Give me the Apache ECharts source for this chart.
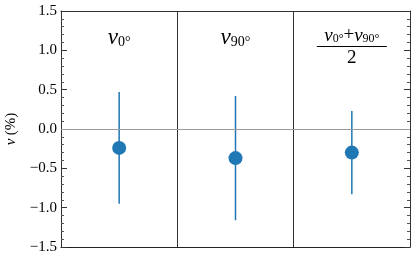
<!DOCTYPE html>
<html>
<head>
<meta charset="utf-8">
<script src="https://cdn.jsdelivr.net/npm/echarts@6/dist/echarts.min.js"></script>
<style>html,body{margin:0;padding:0;background:#fff;}#c{width:416px;height:262px;}</style>
</head>
<body>
<div id="c"></div>
<script>
const categories = ['v0', 'v90', 'avg'];
const values = [-0.24, -0.37, -0.30];
const upper = [0.47, 0.42, 0.23];
const lower = [-0.95, -1.16, -0.83];
const yTicks = [-1.5, -1.0, -0.5, 0.0, 0.5, 1.0, 1.5];

const SERIF = 'serif';
const chart = echarts.init(document.getElementById('c'), null, {renderer: 'canvas'});

const rich = {
  v: {fontFamily: SERIF, fontStyle: 'italic', fontSize: 23, color: '#000'},
  s: {fontFamily: SERIF, fontSize: 14, color: '#000', padding: [9, 0, 0, 0]},
  vs: {fontFamily: SERIF, fontStyle: 'italic', fontSize: 19, color: '#000'},
  ss: {fontFamily: SERIF, fontSize: 12, color: '#000', padding: [7, 0, 0, 0]},
  p: {fontFamily: SERIF, fontSize: 19, color: '#000'},
  bar: {width: 70, height: 1, backgroundColor: '#000', lineHeight: 3, fontSize: 1},
  d: {fontFamily: SERIF, fontSize: 19, color: '#000', lineHeight: 20}
};
const labelText = {
  v0: '{v|v}{s|0°}',
  v90: '{v|v}{s|90°}',
  avg: '{vs|v}{ss|0°}{p|+}{vs|v}{ss|90°}\n{bar| }\n{d|2}'
};

const yAxisBase = {
  type: 'value', min: -1.5, max: 1.5, interval: 0.5,
  axisLine: {show: true, lineStyle: {color: '#333', width: 1}},
  axisTick: {show: true, inside: true, length: 6, lineStyle: {color: '#333'}},
  minorTick: {show: true, splitNumber: 5, length: 3, lineStyle: {color: '#555'}},
  splitLine: {show: false}
};

chart.setOption({
  animation: false,
  grid: {left: 61, right: 6, top: 11, bottom: 15, outerBoundsMode: 'none', containLabel: false},
  xAxis: [
    {type: 'category', data: categories, position: 'bottom',
     axisLine: {show: true, onZero: false, lineStyle: {color: '#222', width: 1.2}},
     axisTick: {show: false}, axisLabel: {show: false},
     splitLine: {show: true, interval: 0, lineStyle: {color: '#333', width: 1}}},
    {type: 'category', data: categories, position: 'top',
     axisLine: {show: true, onZero: false, lineStyle: {color: '#333', width: 1}},
     axisTick: {show: false}, splitLine: {show: false},
     axisLabel: {show: true, interval: 0, inside: true, margin: 15, verticalAlign: 'top',
       formatter: function (v) { return labelText[v]; }, rich: rich}}
  ],
  yAxis: [
    Object.assign({}, yAxisBase, {
      position: 'left',
      name: '{v|v} {n|(%)}', nameLocation: 'middle', nameGap: 28, nameRotate: 90,
      nameTextStyle: {rich: {
        v: {fontFamily: SERIF, fontStyle: 'italic', fontSize: 15, color: '#000'},
        n: {fontFamily: SERIF, fontSize: 15, color: '#000'}}},
      axisLabel: {show: true, fontFamily: SERIF, fontSize: 15, color: '#000', margin: 4,
        formatter: function (v) {
          const s = Math.abs(v).toFixed(1);
          return v < 0 ? '\u2212' + s : s;
        }}
    }),
    Object.assign({}, yAxisBase, {position: 'right', axisLabel: {show: false}})
  ],
  series: [
    {
      type: 'custom', xAxisIndex: 0, yAxisIndex: 0, z: 2,
      data: categories.map(function (c, i) { return [i, lower[i], upper[i]]; }),
      renderItem: function (params, api) {
        const lo = api.coord([api.value(0), api.value(1)]);
        const hi = api.coord([api.value(0), api.value(2)]);
        return {type: 'line', shape: {x1: lo[0], y1: lo[1], x2: hi[0], y2: hi[1]},
                style: {stroke: '#1f77b4', lineWidth: 1.5}};
      }
    },
    {
      type: 'scatter', xAxisIndex: 0, yAxisIndex: 0, z: 3,
      symbolSize: 14, itemStyle: {color: '#1f77b4', opacity: 1},
      data: categories.map(function (c, i) { return [i, values[i]]; }),
      markLine: {silent: true, symbol: 'none', label: {show: false},
        lineStyle: {color: '#9a9a9a', width: 1, type: 'solid'},
        data: [{yAxis: 0}]}
    }
  ]
});
</script>
</body>
</html>
